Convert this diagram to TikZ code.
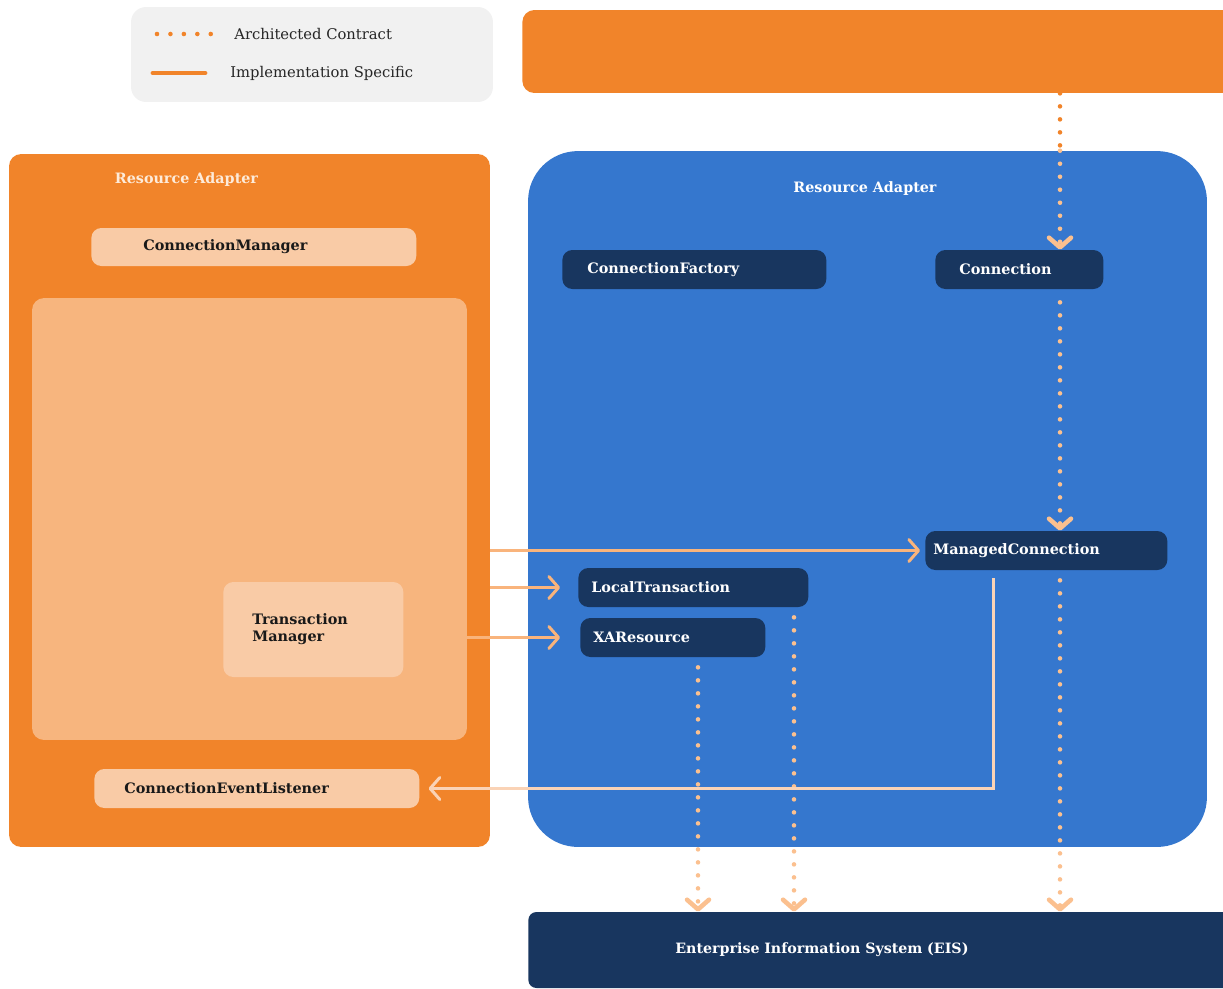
\documentclass[tikz,border=0pt]{standalone}
\usepackage{fontspec}
\setmainfont{DejaVu Serif}
\usepackage{tikz}
\usetikzlibrary{arrows.meta}

\definecolor{raorange}{HTML}{F1842A}
\definecolor{apporange}{HTML}{F7B57E}
\definecolor{peachbox}{HTML}{F9CBA6}
\definecolor{rablue}{HTML}{3577CE}
\definecolor{navy}{HTML}{18365F}
\definecolor{legendgray}{HTML}{F1F1F1}
\definecolor{peachline}{HTML}{F9B47C}
\definecolor{peachdot}{HTML}{FBC08F}
\definecolor{paleline}{HTML}{FAD3B6}
\definecolor{titlecream}{HTML}{FDEBDA}

\begin{document}
\begin{tikzpicture}[x=0.02cm, y=-0.02cm]
    \tikzstyle{panel} = [draw=none, inner sep=0pt, rounded corners=0.24cm]
    \tikzstyle{peach} = [fill=peachbox, rounded corners=0.2cm, anchor=west, align=left, inner ysep=0pt, text=black!90, font=\fontsize{8.2}{9.8}\selectfont\bfseries]
    \tikzstyle{navybox} = [fill=navy, rounded corners=0.2cm, anchor=west, align=left, inner ysep=0pt, minimum height=0.78cm, text=white, font=\fontsize{8.2}{9.8}\selectfont\bfseries]
    \tikzstyle{title} = [inner sep=0pt, font=\fontsize{8.15}{9.8}\selectfont\bfseries]
    \tikzstyle{legendtext} = [anchor=west, inner sep=0pt, text=black!85, font=\fontsize{8.4}{10}\selectfont]
    \tikzstyle{contract} = [draw=peachdot, line width=2.6pt, line cap=round, dash pattern=on 0pt off 7.4pt, -{Straight Barb[length=5.5pt,width=12.5pt,round]}]
    \tikzstyle{impl} = [draw=peachline, line width=1.7pt, -{Straight Barb[length=5.5pt,width=12.5pt,round]}]

    \useasboundingbox (0,0) rectangle (1223,988);

    % Legend
    \node[panel, fill=legendgray, rounded corners=0.3cm, minimum width=7.24cm, minimum height=1.9cm] (legend) at (312,54.5) {};
    \draw[raorange, line width=2.6pt, line cap=round, dash pattern=on 0pt off 7.65pt] (157,34) -- (211,34);
    \draw[raorange, line width=2.8pt, line cap=round] (153,73) -- (205,73);
    \node[legendtext] (archtext) at (234,34) {Architected Contract};
    \node[legendtext] (impltext) at (230,73) {Implementation Specific};

    % Panels
    \node[panel, fill=raorange, minimum width=14.56cm, minimum height=1.66cm, anchor=west] (client) at (522,51.5) {};
    \node[panel, fill=raorange, minimum width=9.62cm, minimum height=13.86cm] (raL) at (249.5,500.5) {};
    \node[panel, fill=apporange, minimum width=8.7cm, minimum height=8.84cm] (appsrv) at (249.5,519) {};
    \node[panel, fill=rablue, rounded corners=1cm, minimum width=13.58cm, minimum height=13.92cm] (raR) at (867.5,499) {};
    \node[title, text=titlecream] (raLtitle) at (186.5,180) {Resource Adapter};
    \node[title, text=white] (raRtitle) at (865,189) {Resource Adapter};

    % Left side boxes
    \node[peach, minimum width=6.5cm, minimum height=0.76cm, inner xsep=1.04cm, text width=4.42cm] (cm) at (91,247) {ConnectionManager};
    \node[peach, minimum width=3.6cm, minimum height=1.9cm, inner xsep=0.58cm, text width=2.44cm] (tm) at (223,629.5) {Transaction\\Manager};
    \node[peach, minimum width=6.5cm, minimum height=0.78cm, inner xsep=0.6cm, text width=5.3cm] (cel) at (94,788.5) {ConnectionEventListener};

    % Right side boxes
    \node[navybox, inner xsep=0.5cm, text width=4.28cm] (cf) at (562,269.5) {ConnectionFactory};
    \node[navybox, inner xsep=0.48cm, text width=2.4cm] (conn) at (935,269.5) {Connection};
    \node[navybox, inner xsep=0.16cm, text width=4.52cm] (mc) at (925,550.5) {ManagedConnection};
    \node[navybox, inner xsep=0.26cm, text width=4.08cm] (lt) at (578,587.5) {LocalTransaction};
    \node[navybox, inner xsep=0.26cm, text width=3.18cm] (xa) at (580,637.5) {XAResource};
    \node[navybox, rounded corners=0.16cm, minimum height=1.52cm, inner xsep=2.94cm, text width=8.56cm, font=\fontsize{8.1}{10}\selectfont\bfseries] (eis) at (528,950) {Enterprise Information System (EIS)};

    % Architected contracts (dotted)
    \coordinate (connlane) at (1060,0);
    \coordinate (ltlane) at (794,0);
    \coordinate (xalane) at (698,0);
    \draw[contract, draw=raorange, -] (client.south -| connlane) -- (raR.north -| connlane);
    \draw[contract] (raR.north -| connlane) -- (conn.north -| connlane);
    \draw[contract, shorten <=0.26cm] (conn.south -| connlane) -- (mc.north -| connlane);
    \draw[contract, shorten <=0.2cm] (mc.south -| connlane) -- (eis.north -| connlane);
    \foreach \src/\lane in {lt/ltlane, xa/xalane} {
        \draw[contract, shorten <=0.2cm] (\src.south -| \lane) -- (eis.north -| \lane);
    }

    % Implementation specific (solid)
    \coordinate (mclane) at (993,0);
    \draw[impl, shorten >=0.1cm] (raL.east |- mc.west) -- (mc.west);
    \draw[impl, shorten >=0.36cm] (raL.east |- lt.west) -- (lt.west);
    \draw[impl, shorten >=0.4cm] (appsrv.east |- xa.west) -- (xa.west);
    \draw[impl, draw=paleline, shorten <=0.16cm, shorten >=0.18cm] (mc.south -| mclane) |- (cel.east);
\end{tikzpicture}
\end{document}
